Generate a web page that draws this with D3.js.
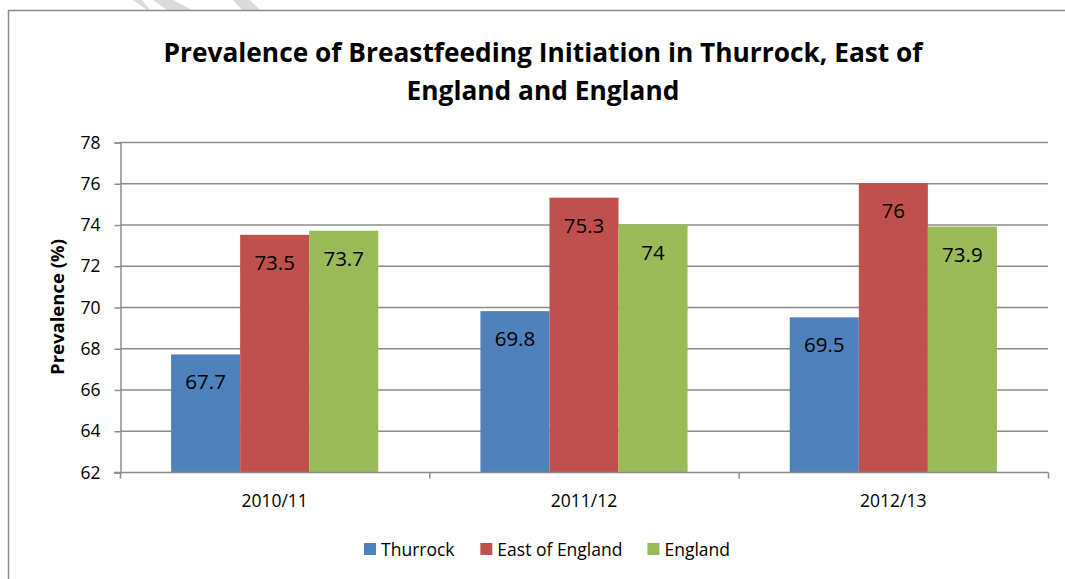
<!DOCTYPE html>
<html>
<head>
<meta charset="utf-8">
<script src="https://cdn.jsdelivr.net/npm/d3@7"></script>
<style>
  html, body { margin: 0; padding: 0; background: #fff; }
  svg { display: block; font-family: "Open Sans", Lato, sans-serif; }
</style>
</head>
<body>
<div id="graph"></div>
<script>
/* chart data */
const categories = ["2010/11", "2011/12", "2012/13"];
const seriesNames = ["Thurrock", "East of England", "England"];
const thurrock = [67.7, 69.8, 69.5];
const eastOfEngland = [73.5, 75.3, 76];
const england = [73.7, 74, 73.9];
const yTicks = [62, 64, 66, 68, 70, 72, 74, 76, 78];
const colors = ["#4f81bd", "#c0504d", "#9bbb59"];

window.addEventListener("DOMContentLoaded", main)

function main() {
    const W = 1065, H = 579;
    const P = { left: 120, right: 1048, top: 142, bottom: 472 };
    const values = [thurrock, eastOfEngland, england];

    const svg = d3.select("#graph").append("svg").attr("width", W).attr("height", H);

    // faint watermark strokes above the frame
    const marks = [[133, 142, 150, 147], [153, 173, 192, 167], [233, 250, 260, 242]];
    svg.selectAll(".wm").data(marks).enter().append("path")
        .attr("d", d => `M${d[0]},0 L${d[1]},0 L${d[2]},10 L${d[3]},10 Z`)
        .attr("fill", "#dadada");

    // chart frame
    svg.append("rect")
        .attr("x", 8.5).attr("y", 10.5)
        .attr("width", W + 20).attr("height", H + 20)
        .attr("fill", "none").attr("stroke", "#8c8c8c").attr("stroke-width", 1.5);

    // title
    const title = svg.append("text")
        .attr("text-anchor", "middle")
        .attr("font-weight", "bold")
        .attr("font-size", 26.3)
        .attr("fill", "#000");
    title.append("tspan").attr("x", 543).attr("y", 62)
        .text("Prevalence of Breastfeeding Initiation in Thurrock, East of");
    title.append("tspan").attr("x", 543).attr("y", 100)
        .text("England and England");

    /* scales */
    const yScale = d3.scaleLinear().domain([62, 78]).range([P.bottom, P.top]);
    const xScale = d3.scaleBand().domain(categories).range([P.left, P.right]);
    const inner = d3.scaleBand().domain(seriesNames)
        .range([0, xScale.bandwidth()]).paddingOuter(0.74);

    // gridlines
    svg.append("g").selectAll("line").data(yTicks.slice(1)).enter().append("line")
        .attr("x1", P.left).attr("x2", P.right)
        .attr("y1", d => yScale(d) + 0.5).attr("y2", d => yScale(d) + 0.5)
        .attr("stroke", "#8c8c8c").attr("stroke-width", 1.5);

    /* Y axis */
    const yAxis = d3.axisLeft(yScale).tickValues(yTicks).tickSize(6).tickPadding(14);
    const gy = svg.append("g")
        .attr("transform", "translate(" + (P.left + 0.5) + ",0.5)")
        .call(yAxis);
    gy.select(".domain").attr("stroke", "#8c8c8c").attr("stroke-width", 1.5);
    gy.selectAll(".tick line").attr("stroke", "#8c8c8c").attr("stroke-width", 1.5);
    gy.selectAll(".tick text")
        .attr("font-size", 17.5).attr("font-family", "'Open Sans', sans-serif").attr("fill", "#000");

    svg.append("text")
        .attr("transform", "translate(64,307) rotate(-90)")
        .attr("text-anchor", "middle")
        .attr("font-weight", "bold")
        .attr("font-size", 18.5)
        .text("Prevalence (%)");

    /* bars */
    const groups = svg.append("g").selectAll("g").data(categories).enter().append("g")
        .attr("transform", d => "translate(" + xScale(d) + ",0)");

    groups.selectAll("rect")
        .data((c, ci) => seriesNames.map((s, si) => ({ s: s, si: si, v: values[si][ci] })))
        .enter().append("rect")
        .attr("x", d => inner(d.s))
        .attr("y", d => yScale(d.v))
        .attr("width", inner.bandwidth())
        .attr("height", d => yScale(62) - yScale(d.v))
        .attr("fill", d => colors[d.si]);

    groups.selectAll("text")
        .data((c, ci) => seriesNames.map((s, si) => ({ s: s, si: si, v: values[si][ci] })))
        .enter().append("text")
        .attr("x", d => inner(d.s) + inner.bandwidth() / 2)
        .attr("y", d => yScale(d.v) + 35)
        .attr("text-anchor", "middle")
        .attr("font-size", 20.5)
        .attr("fill", "#000")
        .text(d => d.v);

    /* X axis */
    const gx = svg.append("g").attr("transform", "translate(0," + (P.bottom + 0.5) + ")");
    gx.append("line").attr("x1", P.left - 6).attr("x2", P.right + 0.5)
        .attr("stroke", "#8c8c8c").attr("stroke-width", 1.5);
    const bounds = categories.map(c => xScale(c)).concat([P.right]);
    gx.selectAll(".tk").data(bounds).enter().append("line")
        .attr("x1", d => d + 0.5).attr("x2", d => d + 0.5)
        .attr("y1", 0).attr("y2", 6)
        .attr("stroke", "#8c8c8c").attr("stroke-width", 1.5);
    gx.selectAll(".lbl").data(categories).enter().append("text")
        .attr("x", d => xScale(d) + xScale.bandwidth() / 2)
        .attr("y", 34)
        .attr("text-anchor", "middle")
        .attr("font-size", 17.5)
        .text(d => d);

    /* legend */
    const legend = svg.append("g");
    const items = legend.selectAll("g").data(seriesNames).enter().append("g");
    items.append("rect").attr("width", 12).attr("height", 12).attr("y", -6)
        .attr("fill", (d, i) => colors[i]);
    items.append("text").attr("x", 17).attr("y", 6.5)
        .attr("font-size", 17.5).text(d => d);
    let lx = 0;
    items.each(function () {
        d3.select(this).attr("transform", "translate(" + lx + ",0)");
        lx += this.getBBox().width + 25;
    });
    legend.attr("transform", "translate(" + (547 - (lx - 25) / 2) + ",549)");
}
</script>
</body>
</html>
